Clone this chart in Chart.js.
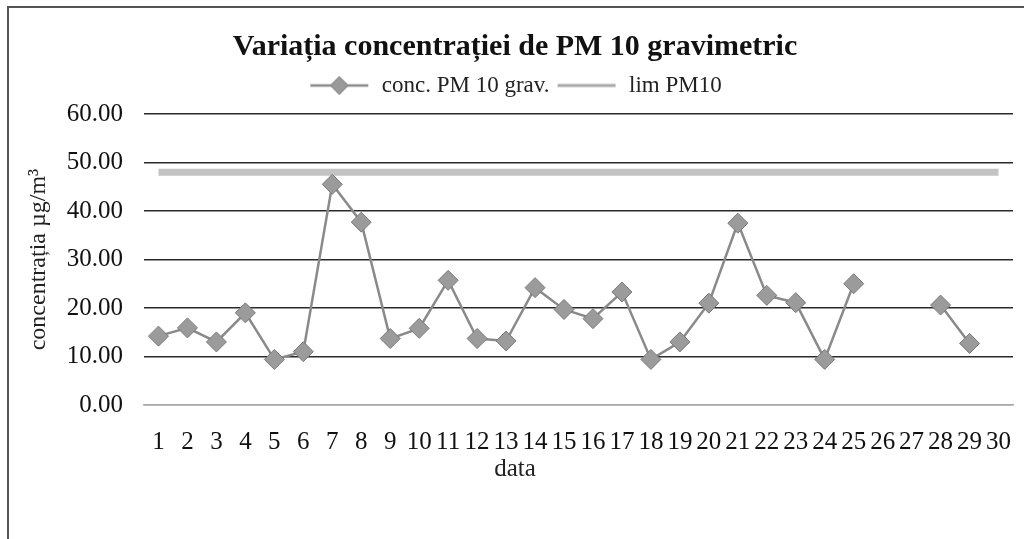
<!DOCTYPE html>
<html>
<head>
<meta charset="utf-8">
<script src="https://cdn.jsdelivr.net/npm/chart.js@4"></script>
<style>
html,body{margin:0;padding:0;background:#fff;}
#wrap{position:absolute;left:0;top:0;width:1024px;height:539px;}
#frame{position:absolute;left:7px;top:6px;width:1100px;height:540px;border-top:2px solid #555;border-left:2px solid #555;pointer-events:none;}
</style>
</head>
<body>
<div id="wrap"><canvas id="c" width="1024" height="539"></canvas></div>
<div id="frame"></div>
<script>
const categories = ['1','2','3','4','5','6','7','8','9','10','11','12','13','14','15','16','17','18','19','20','21','22','23','24','25','26','27','28','29','30'];
const concPM10 = [14.2,15.9,13.0,19.0,9.4,11.0,45.5,37.7,13.7,15.8,25.7,13.7,13.2,24.2,19.7,17.8,23.3,9.4,13.0,21.0,37.5,22.6,21.1,9.4,25.0,null,null,20.6,12.7,null];
const limPM10 = [48,48,48,48,48,48,48,48,48,48,48,48,48,48,48,48,48,48,48,48,48,48,48,48,48,48,48,48,48,48];
const yTicks = [0,10,20,30,40,50,60];

function legendIcon(withDiamond){
  const cv = document.createElement('canvas');
  cv.width = 62; cv.height = 20;
  const g = cv.getContext('2d');
  g.strokeStyle = withDiamond ? '#8a8a8a' : '#a8a8a8';
  g.lineWidth = withDiamond ? 2.5 : 3;
  g.beginPath(); g.moveTo(2,10); g.lineTo(60,10); g.stroke();
  if (withDiamond){
    g.fillStyle = '#999999';
    g.strokeStyle = '#7a7a7a';
    g.lineWidth = 1;
    g.beginPath(); g.moveTo(31,1); g.lineTo(40,10); g.lineTo(31,19); g.lineTo(22,10); g.closePath();
    g.fill(); g.stroke();
  }
  return cv;
}

const legendSpacer = {
  id: 'legendSpacer',
  beforeLayout(chart){
    const lg = chart.legend;
    if (lg && !lg._spPatched){
      const f = lg.fit;
      lg.fit = function(){ f.call(this); this.height += 7; };
      lg._spPatched = true;
    }
  }
};

const serif = '"Liberation Serif", "Times New Roman", serif';
new Chart(document.getElementById('c'), {
  type: 'line',
  plugins: [legendSpacer],
  data: {
    labels: categories,
    datasets: [
      {
        label: 'conc. PM 10 grav.',
        data: concPM10,
        borderColor: '#8a8a8a',
        borderWidth: 2.5,
        backgroundColor: '#999999',
        pointStyle: 'rectRot',
        pointRadius: 10,
        pointBackgroundColor: '#9b9b9b',
        pointBorderColor: '#7a7a7a',
        pointBorderWidth: 1,
        spanGaps: false,
        tension: 0,
        order: 1
      },
      {
        label: 'lim PM10',
        data: limPM10,
        borderColor: 'rgba(170,170,170,0.7)',
        borderWidth: 7,
        pointRadius: 0,
        tension: 0,
        order: 2
      }
    ]
  },
  options: {
    responsive: false,
    animation: false,
    layout: { padding: { top: 32, left: 10, right: 4, bottom: 55 } },
    plugins: {
      title: {
        display: true,
        text: 'Variația concentrației de PM 10 gravimetric',
        color: '#111',
        font: { family: serif, size: 30, weight: 'bold', lineHeight: 1.0 },
        padding: { top: 0, bottom: 6 }
      },
      subtitle: {
        display: true,
        position: 'bottom',
        text: 'data',
        color: '#222',
        font: { family: serif, size: 25, lineHeight: 1.2 },
        padding: { top: 0, bottom: 0 }
      },
      legend: {
        display: true,
        position: 'top',
        labels: {
          color: '#222',
          font: { family: serif, size: 23 },
          usePointStyle: true,
          pointStyleWidth: 62,
          padding: 6,
          generateLabels: function(chart){
            return chart.data.datasets.map(function(ds, i){
              return {
                text: ds.label,
                pointStyle: legendIcon(i === 0),
                datasetIndex: i,
                hidden: false,
                lineWidth: 0,
                fontColor: '#222'
              };
            });
          }
        }
      },
      tooltip: { enabled: false }
    },
    scales: {
      x: {
        offset: true,
        afterFit: function(axis){ axis.height = 49; },
        grid: { display: true, color: 'rgba(0,0,0,0)', drawTicks: true, tickLength: 20, tickColor: 'rgba(0,0,0,0)' },
        border: { display: true, color: '#aaa', width: 1.5 },
        ticks: { color: '#111', font: { family: serif, size: 25 }, maxRotation: 0, minRotation: 0, autoSkip: false, padding: 2 }
      },
      y: {
        min: 0, max: 60,
        afterFit: function(axis){ axis.width = 134; },
        afterBuildTicks: function(axis){ axis.ticks = yTicks.map(function(v){ return { value: v }; }); },
        grid: { color: function(ctx){ return ctx.tick && ctx.tick.value === 0 ? '#9a9a9a' : '#2a2a2a'; }, lineWidth: 1.5, drawTicks: false },
        border: { display: false },
        ticks: { color: '#111', font: { family: serif, size: 25 }, padding: 21, callback: function(v){ return Number(v).toFixed(2); } },
        title: { display: true, text: 'concentrația µg/m³', color: '#222', font: { family: serif, size: 24 }, padding: { top: 14, bottom: 0 } }
      }
    }
  }
});
</script>
</body>
</html>
